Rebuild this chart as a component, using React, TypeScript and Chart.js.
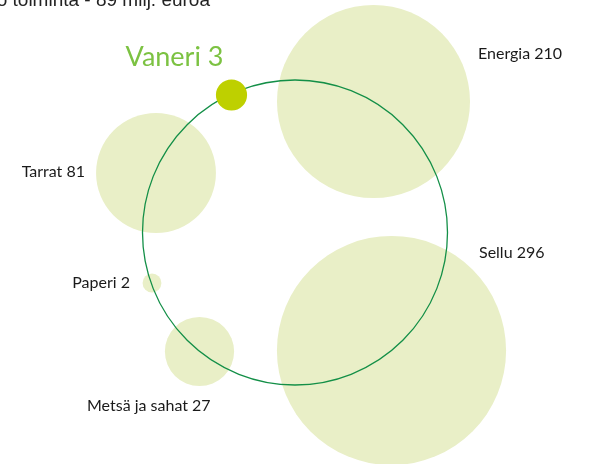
import React, { useEffect, useRef } from "react";
import { Chart, registerables } from "chart.js";

Chart.register(...registerables);

// Segments and their values (milj. euroa)
const categories = ["Energia", "Sellu", "Tarrat", "Paperi", "Metsä ja sahat"];
const values = [210, 296, 81, 2, 27];
// Bubble centres in the chart's coordinate space
const bubbleX = [373.5, 391.5, 156, 152, 199.5];
const bubbleY = [101.5, 350.5, 173, 283, 351.5];

// Highlighted segment
const highlightName = "Vaneri";
const highlightValue = 3;
const highlightX = 231.5;
const highlightY = 95;

// Ring
const ringX = 295;
const ringY = 232.5;

const titleText = "Koko toiminta - 89 milj. euroa";

const SCALE = 6.66; // px per sqrt(value)

export default function App() {
  const ref = useRef<HTMLCanvasElement | null>(null);

  useEffect(() => {
    document.body.style.margin = "0";
    const canvas = ref.current!;
    const labelLayout = [
      { dx: 104.5, dy: -42.5, align: "left" },
      { dx: 87.5, dy: -92.5, align: "left" },
      { dx: -71, dy: 4, align: "right" },
      { dx: -22, dy: 5, align: "right" },
      { dx: -112.5, dy: 59.5, align: "left" },
    ];

    const labelPlugin = {
      id: "labels",
      afterDatasetsDraw(chart: any) {
        const { ctx, scales } = chart;
        ctx.save();
        ctx.fillStyle = "#1a1a1a";
        ctx.font = "16px Lato";
        ctx.textBaseline = "alphabetic";
        categories.forEach((c, i) => {
          const px = scales.x.getPixelForValue(bubbleX[i]);
          const py = scales.y.getPixelForValue(bubbleY[i]);
          const l = labelLayout[i];
          ctx.textAlign = l.align;
          ctx.fillText(`${c} ${values[i]}`, px + l.dx, py + l.dy);
        });
        // highlighted label
        const hx = scales.x.getPixelForValue(highlightX);
        const hy = scales.y.getPixelForValue(highlightY);
        ctx.fillStyle = "#7cc242";
        ctx.font = "27px Lato";
        ctx.textAlign = "right";
        ctx.fillText(`${highlightName} ${highlightValue}`, hx - 8, hy - 29);
        // cropped title
        ctx.fillStyle = "#222";
        ctx.font = "19px 'Liberation Sans'";
        ctx.textAlign = "right";
        ctx.fillText(titleText, 210, 6);
        ctx.restore();
      },
    };

    const chart = new Chart(canvas, {
      type: "bubble",
      data: {
        datasets: [
          {
            label: highlightName,
            data: [{ x: highlightX, y: highlightY, r: 9 * Math.sqrt(highlightValue) }],
            backgroundColor: "#bed000",
            borderWidth: 0,
            clip: false,
          },
          {
            label: "ring",
            data: [{ x: ringX, y: ringY, r: 152.5 }],
            backgroundColor: "rgba(0,0,0,0)",
            borderColor: "#138f47",
            borderWidth: 1.3,
            clip: false,
          },
          {
            label: "segments",
            data: categories.map((c, i) => ({
              x: bubbleX[i],
              y: bubbleY[i],
              r: SCALE * Math.sqrt(values[i]),
            })),
            backgroundColor: "#e9efc7",
            borderWidth: 0,
            clip: false,
          },
        ],
      },
      options: {
        responsive: false,
        animation: false,
        devicePixelRatio: 1,
        events: [],
        layout: { padding: 0, autoPadding: false },
        plugins: {
          legend: { display: false },
          tooltip: { enabled: false },
          title: { display: false },
        },
        scales: {
          x: { type: "linear", min: 0, max: 598, display: false },
          y: { type: "linear", min: 0, max: 464, reverse: true, display: false },
        },
      },
      plugins: [labelPlugin],
    } as any);
    return () => chart.destroy();
  }, []);

  return (
    <div style={{ width: 598, height: 464 }}>
      <canvas ref={ref} width={598} height={464} />
    </div>
  );
}
